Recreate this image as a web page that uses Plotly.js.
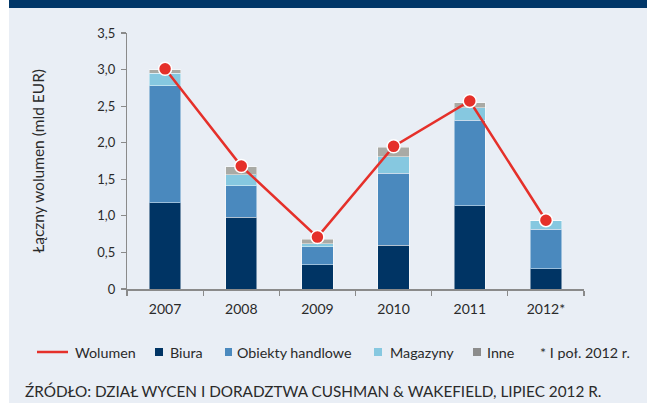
<!DOCTYPE html>
<html>
<head>
<meta charset="utf-8">
<script src="https://cdn.plot.ly/plotly-3.0.1.min.js"></script>
<style>html,body{margin:0;padding:0;background:#fff;}#chart{width:647px;height:405px;}</style>
</head>
<body>
<div id="chart"></div>
<script>
var categories = ["2007", "2008", "2009", "2010", "2011", "2012*"];
var biura = [1.18, 0.98, 0.33, 0.60, 1.14, 0.28];
var obiekty = [1.60, 0.43, 0.25, 0.985, 1.165, 0.54];
var magazyny = [0.17, 0.15, 0.04, 0.225, 0.17, 0.11];
var inne = [0.05, 0.11, 0.06, 0.13, 0.07, 0];
var wolumen = [3.01, 1.68, 0.71, 1.95, 2.57, 0.94];
var yTickVals = [0, 0.5, 1, 1.5, 2, 2.5, 3, 3.5];
var yTickText = ["0", "0,5", "1,0", "1,5", "2,0", "2,5", "3,0", "3,5"];

var FONT = "Lato, 'Open Sans', sans-serif";
var C_BIURA = "#003464", C_OBI = "#4a89be", C_MAG = "#86c8e0", C_INNE = "#a9aaa5", C_RED = "#e5302a";

// plot area geometry (pixels)
var L = 127, R = 63, T = 33, B = 116, W = 647, H = 405;
var PW = W - L - R, PH = H - T - B;
function px(x) { return (x - L) / PW; }
function py(y) { return (H - B - y) / PH; }

function barTrace(name, vals, color) {
  return {
    type: "bar", name: name, x: categories, y: vals,
    marker: { color: color, line: { color: "rgba(255,255,255,0.45)", width: 1 } },
    showlegend: false, hoverinfo: "skip"
  };
}
var traces = [
  barTrace("Biura", biura, C_BIURA),
  barTrace("Obiekty handlowe", obiekty, C_OBI),
  barTrace("Magazyny", magazyny, C_MAG),
  barTrace("Inne", inne, C_INNE),
  {
    type: "scatter", mode: "lines+markers", name: "Wolumen", x: categories, y: wolumen,
    line: { color: C_RED, width: 2.5 },
    marker: { color: C_RED, size: 13, line: { color: "#ffffff", width: 1.5 } },
    showlegend: false, hoverinfo: "skip", cliponaxis: false
  }
];

var shapes = [
  // background frame
  { type: "rect", xref: "paper", yref: "paper", layer: "below", x0: px(0), x1: px(9), y0: py(H), y1: py(0), fillcolor: "#ffffff", line: { width: 0 } },
  { type: "rect", xref: "paper", yref: "paper", layer: "below", x0: px(9), x1: px(W), y0: py(8), y1: py(0), fillcolor: "#003668", line: { width: 0 } },
  { type: "rect", xref: "paper", yref: "paper", layer: "below", x0: px(0), x1: px(W), y0: py(H), y1: py(403), fillcolor: "#ffffff", line: { width: 0 } },
  // legend swatches
  { type: "line", xref: "paper", yref: "paper", x0: px(37), x1: px(68), y0: py(352), y1: py(352), line: { color: C_RED, width: 2.5 } },
  { type: "rect", xref: "paper", yref: "paper", x0: px(155), x1: px(163), y0: py(356), y1: py(348), fillcolor: C_BIURA, line: { width: 0 } },
  { type: "rect", xref: "paper", yref: "paper", x0: px(225), x1: px(232), y0: py(356), y1: py(348), fillcolor: C_OBI, line: { width: 0 } },
  { type: "rect", xref: "paper", yref: "paper", x0: px(374), x1: px(382), y0: py(356), y1: py(348), fillcolor: C_MAG, line: { width: 0 } },
  { type: "rect", xref: "paper", yref: "paper", x0: px(473), x1: px(481), y0: py(356), y1: py(348), fillcolor: "#8c8c8c", line: { width: 0 } }
];

function ann(text, x, y, size) {
  return { text: text, xref: "paper", yref: "paper", x: px(x), y: py(y), xanchor: "left", yanchor: "middle",
    showarrow: false, font: { family: FONT, size: size || 14.3, color: "#2a2a2a" } };
}
var annotations = [
  ann("Wolumen", 73, 352),
  ann("Biura", 168, 352),
  ann("Obiekty handlowe", 235, 352),
  ann("Magazyny", 388, 352),
  ann("Inne", 485, 352),
  ann("* I poł. 2012 r.", 538, 352),
  ann("ŹRÓDŁO: DZIAŁ WYCEN I DORADZTWA CUSHMAN &amp; WAKEFIELD, LIPIEC 2012 R.", 23, 391, 15.3)
];

var layout = {
  width: W, height: H,
  margin: { l: L, r: R, t: T, b: B, pad: 0 },
  paper_bgcolor: "#e9eef5",
  plot_bgcolor: "rgba(0,0,0,0)",
  barmode: "stack",
  bargap: 0.59,
  showlegend: false,
  font: { family: FONT, color: "#2a2a2a" },
  xaxis: {
    type: "category", range: [-0.5, 5.5], fixedrange: true,
    showline: true, linecolor: "#8a8a8a", linewidth: 2,
    ticks: "outside", tickson: "boundaries", ticklen: 5, tickcolor: "#8a8a8a", tickwidth: 1.2,
    showgrid: false, zeroline: false,
    ticklabelstandoff: 6,
    tickfont: { family: FONT, size: 14, color: "#2a2a2a" }
  },
  yaxis: {
    range: [0, 3.5], fixedrange: true,
    tickvals: yTickVals, ticktext: yTickText,
    showline: true, linecolor: "#8a8a8a", linewidth: 1.2,
    ticks: "outside", ticklen: 5, tickcolor: "#8a8a8a", tickwidth: 1.2,
    showgrid: false, zeroline: false,
    ticklabelstandoff: 3,
    tickfont: { family: FONT, size: 13, color: "#2a2a2a" },
    title: { text: "Łączny wolumen (mld EUR)", font: { family: FONT, size: 15.5, color: "#2a2a2a" }, standoff: 48 }
  },
  shapes: shapes,
  annotations: annotations
};

Plotly.newPlot("chart", traces, layout, { staticPlot: true, displayModeBar: false });
</script>
</body>
</html>
